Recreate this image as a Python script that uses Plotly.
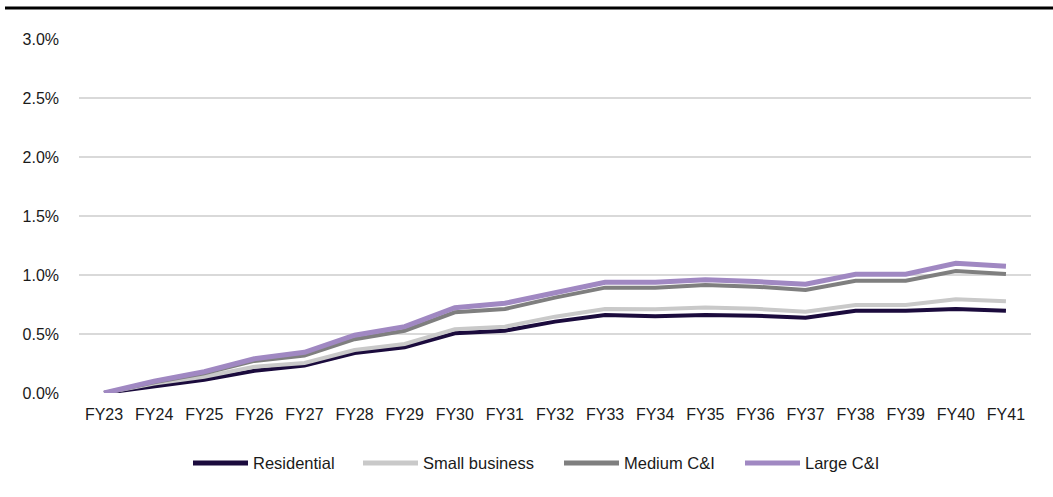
import plotly.graph_objects as go

years = ["FY23", "FY24", "FY25", "FY26", "FY27", "FY28", "FY29", "FY30", "FY31", "FY32",
         "FY33", "FY34", "FY35", "FY36", "FY37", "FY38", "FY39", "FY40", "FY41"]

residential = [0.000, 0.055, 0.112, 0.188, 0.232, 0.338, 0.388, 0.506, 0.528, 0.605,
               0.661, 0.651, 0.662, 0.655, 0.638, 0.697, 0.697, 0.711, 0.697]
small_business = [0.000, 0.080, 0.138, 0.222, 0.254, 0.364, 0.415, 0.540, 0.562, 0.647,
                  0.712, 0.709, 0.725, 0.714, 0.689, 0.746, 0.746, 0.794, 0.777]
medium_ci = [0.000, 0.090, 0.167, 0.272, 0.318, 0.456, 0.528, 0.684, 0.712, 0.808,
             0.893, 0.893, 0.915, 0.901, 0.873, 0.952, 0.952, 1.034, 1.008]
large_ci = [0.000, 0.099, 0.180, 0.290, 0.345, 0.490, 0.562, 0.723, 0.760, 0.853,
            0.938, 0.938, 0.960, 0.944, 0.921, 1.006, 1.006, 1.099, 1.074]

y_ticks = [0, 0.5, 1.0, 1.5, 2.0, 2.5, 3.0]

series = [
    ("Residential", residential, "#1b0b3d", 4),
    ("Small business", small_business, "#c9c9c9", 4),
    ("Medium C&I", medium_ci, "#7f7f7f", 4),
    ("Large C&I", large_ci, "#a088c2", 5),
]

# Figure geometry (pixels) used to place the legend key below the plot
W, H = 1053, 497
ML, MR, MT, MB = 79, 22, 39, 104
PW, PH = W - ML - MR, H - MT - MB


def px_x(px):
    return (px - ML) / PW


def px_y(py):
    return (H - MB - py) / PH


font_family = "Liberation Sans, Arial, sans-serif"

fig = go.Figure()
for name, vals, color, width in series:
    fig.add_trace(go.Scatter(
        x=years, y=vals, name=name, mode="lines",
        line=dict(color=color, width=width, shape="linear"),
        showlegend=False,
    ))

# Legend key: a long line sample followed by the series name
legend_line_starts = [193, 363, 564, 745]
legend_line_len = 55
legend_text_gap = 3
legend_y = 463

shapes = [dict(
    type="line", xref="paper", yref="paper",
    x0=px_x(5), x1=px_x(W), y0=px_y(8), y1=px_y(8),
    line=dict(color="black", width=3),
)]
annotations = []
for (name, _, color, width), x0 in zip(series, legend_line_starts):
    shapes.append(dict(
        type="line", xref="paper", yref="paper",
        x0=px_x(x0), x1=px_x(x0 + legend_line_len),
        y0=px_y(legend_y), y1=px_y(legend_y),
        line=dict(color=color, width=5),
    ))
    annotations.append(dict(
        text=name, xref="paper", yref="paper",
        x=px_x(x0 + legend_line_len + legend_text_gap), y=px_y(legend_y),
        xanchor="left", yanchor="middle", showarrow=False,
        font=dict(family=font_family, size=16.5, color="#1a1a1a"),
    ))

fig.update_layout(
    width=W, height=H,
    margin=dict(l=ML, r=MR, t=MT, b=MB),
    paper_bgcolor="white", plot_bgcolor="white",
    font=dict(family=font_family, size=16, color="#1a1a1a"),
    showlegend=False,
    xaxis=dict(
        type="category", range=[-0.5, 18.5], showgrid=False, zeroline=False,
        showline=False, ticks="", tickfont=dict(size=16),
        ticklabelstandoff=10,
    ),
    yaxis=dict(
        range=[0, 3.0], tickvals=y_ticks,
        ticktext=[f"{v:.1f}%" for v in y_ticks],
        showgrid=True, gridcolor="#d9d9d9", gridwidth=1.5,
        zeroline=False, showline=False, ticks="",
        ticklabelstandoff=19, tickfont=dict(size=16),
    ),
    shapes=shapes,
    annotations=annotations,
)

fig.write_html("out.html")
